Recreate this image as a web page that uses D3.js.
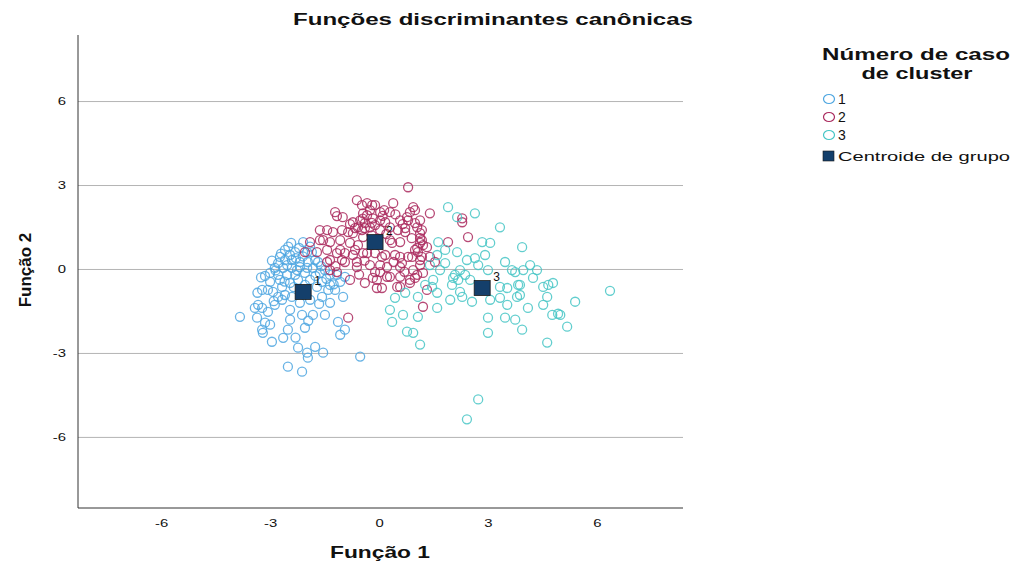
<!DOCTYPE html>
<html>
<head>
<meta charset="utf-8">
<script src="https://cdn.jsdelivr.net/npm/d3@7"></script>
<style>
  body { margin: 0; background: #fff; }
  text { font-family: "Liberation Sans", Arial, sans-serif; fill: #111; }
</style>
</head>
<body>
<svg width="1012" height="565"></svg>
<script>
// canonical discriminant scores, [função 1, função 2]
const cluster1 = [
  [-2.42,0.93],[-2.09,0.96],[-2.31,0.60],[-1.98,0.60],[-2.59,0.32],[-2.40,0.32],[-2.18,0.25],[-1.96,0.25],
  [-1.76,0.32],[-2.87,0.04],[-2.64,0.04],[-2.40,0.04],[-2.18,0.07],[-1.98,0.04],[-1.82,0.04],[-3.00,-0.14],
  [-2.78,-0.21],[-2.53,-0.21],[-2.31,-0.21],[-2.04,-0.14],[-1.63,-0.14],[-1.35,-0.21],[-1.16,-0.21],[-3.22,-0.75],
  [-3.06,-0.75],[-2.92,-0.82],[-2.67,-0.64],[-2.59,-0.93],[-2.40,-1.00],[-2.67,-1.10],[-2.45,-1.46],[-2.12,-1.64],
  [-1.82,-1.64],[-1.71,-0.64],[-1.57,-1.00],[-1.35,-1.21],[-1.40,-0.75],[-1.21,-0.75],[-0.99,-1.00],[-3.42,-1.39],
  [-3.22,-1.39],[-3.83,-1.71],[-3.36,-1.74],[-3.14,-1.92],[-3.22,-2.17],[-3.00,-1.99],[-2.45,-1.81],[-2.04,-2.10],
  [-2.51,-2.17],[-2.64,-2.46],[-2.95,-2.60],[-1.07,-2.35],[-2.23,-2.81],[-1.98,-2.99],[-1.76,-2.78],[-1.54,-2.99],
  [-1.96,-3.17],[-2.51,-3.49],[-2.12,-3.67],[-0.52,-3.13],[-3.20,-2.28],[-3.14,-0.25],[-3.00,-0.46],[-2.73,-0.39],
  [-2.45,-0.50],[-2.23,-0.39],[-2.04,-0.57],[-1.90,-0.39],[-2.29,0.39],[-2.59,0.68],[-2.73,0.43],[-2.78,0.21],
  [-2.53,0.14],[-2.26,-0.04],[-1.85,0.60],[-1.68,0.25],[-1.49,-0.04],[-1.57,-0.46],[-1.35,-0.57],[-1.07,-0.46],
  [-0.94,-0.28],[-2.18,-1.21],[-1.90,-1.10],[-2.87,-1.28],[-3.06,-1.53],[-3.33,-1.28],[-2.78,-1.00],[-1.13,-1.89],
  [-0.94,-2.17],[-1.49,-1.64],[-2.95,0.30],[-2.70,0.55],[-2.50,0.80],[-2.20,0.75],[-1.90,0.80],[-2.10,0.45],
  [-2.45,0.50],[-2.85,-0.05],[-2.60,-0.45],[-2.35,-0.65],[-1.75,-0.25],[-1.60,0.10],[-1.45,-0.35],[-1.25,-0.55],
  [-3.25,-0.30],[-3.35,-0.85],[-2.90,-1.15],[-1.65,-1.25],[-1.95,-1.85],[-2.30,-2.45]
];

const cluster2 = [
  [0.80,2.92],[-0.61,2.46],[-0.47,2.28],[-0.19,2.28],[-0.11,2.28],[0.39,2.35],[-1.21,2.03],[-1.16,1.89],
  [0.03,2.03],[0.30,2.03],[0.85,2.03],[0.94,2.21],[1.40,1.99],[-0.52,1.74],[-0.39,1.64],[-0.25,1.49],
  [-0.58,1.49],[-0.72,1.67],[0.58,1.74],[0.80,1.74],[1.13,1.74],[0.30,1.49],[0.52,1.39],[0.72,1.32],
  [1.05,1.49],[1.13,1.28],[-1.43,1.39],[-1.27,1.32],[-1.02,1.39],[-0.85,1.32],[-0.72,1.28],[-0.44,1.14],
  [-1.54,1.03],[-1.35,0.96],[-1.07,1.03],[-0.80,0.93],[-0.58,0.85],[0.36,0.93],[1.13,0.93],[1.32,0.78],
  [-0.44,0.57],[-0.11,0.57],[0.17,0.50],[0.58,0.43],[0.91,0.43],[-1.43,0.68],[-1.16,0.57],[-0.94,0.57],
  [-0.72,0.50],[0.99,0.68],[1.40,0.43],[-1.02,0.32],[-0.61,0.25],[-0.25,0.14],[0.22,0.07],[0.58,0.07],
  [1.13,0.14],[-1.43,0.25],[-0.11,-0.11],[0.22,-0.28],[-0.80,-0.39],[-0.06,-0.39],[-0.39,-0.50],[0.58,-0.28],
  [1.05,-0.21],[0.85,-0.50],[0.08,-0.68],[0.50,-0.64],[-1.90,0.96],[-2.04,0.60],[-1.71,0.60],[-1.63,1.39],
  [-1.63,1.03],[-1.35,0.32],[-1.16,-0.11],[-0.94,0.25],[0.94,-0.04],[0.63,0.21],[0.99,2.10],[0.14,2.10],
  [-0.44,1.99],[-0.33,2.35],[-0.17,1.81],[0.03,1.74],[0.77,1.85],[0.99,1.64],[-0.66,1.46],[-0.39,1.46],
  [0.30,1.03],[0.58,0.96],[1.18,1.03],[-1.07,0.68],[-0.66,0.68],[-0.33,0.57],[0.08,0.43],[0.44,0.50],
  [0.80,0.43],[1.07,0.60],[1.13,0.32],[-0.61,0.07],[0.03,0.14],[0.03,-0.11],[-0.17,-0.32],[0.30,-0.28],
  [0.85,-0.39],[-0.06,-0.68],[0.58,-0.64],[0.72,1.46],[1.18,1.39],[1.13,1.10],[1.21,0.85],[1.05,0.75],
  [1.18,0.43],[2.29,1.81],[2.29,1.67],[1.90,0.96],[2.45,1.14],[1.54,0.25],[0.99,-0.32],[1.21,-0.14],
  [1.32,-0.75],[1.21,-1.35],[-0.85,-1.74],[-1.35,-0.04],[-0.33,1.92],[-0.11,1.57],[-0.25,2.10],[-0.47,1.39],
  [0.03,1.39],[0.17,1.67],[-0.20,1.65],[0.10,1.90],[-0.45,1.80],[0.45,1.95],[0.65,1.60],[-0.80,1.60],
  [-1.00,1.85],[0.20,1.25],[-0.20,1.20],[0.90,1.10],[-1.20,0.10],[-0.40,0.30],[0.40,0.25],[0.70,-0.10],
  [-0.55,-0.20]
];

const cluster3 = [
  [1.90,2.21],[2.64,1.99],[3.33,1.49],[3.94,0.78],[1.63,0.96],[2.15,0.60],[2.84,0.96],[3.06,0.93],
  [2.42,0.32],[2.64,0.39],[2.73,0.14],[1.82,0.21],[3.00,-0.04],[3.75,-0.11],[3.97,-0.04],[4.16,0.14],
  [4.35,-0.04],[4.24,-0.32],[2.04,-0.32],[2.18,-0.39],[1.49,-0.39],[1.46,-0.64],[2.01,-0.57],[2.51,-0.39],
  [3.33,-0.64],[3.53,-0.68],[3.83,-0.57],[4.52,-0.64],[4.66,-0.57],[4.79,-0.50],[1.60,-0.85],[1.07,-1.00],
  [1.96,-1.10],[2.29,-1.00],[2.56,-1.17],[3.33,-1.03],[3.80,-1.00],[4.63,-1.00],[3.53,-1.28],[4.10,-1.39],
  [4.52,-1.28],[5.40,-1.17],[1.60,-1.39],[3.00,-1.74],[3.47,-1.74],[3.75,-1.81],[4.77,-1.64],[4.99,-1.64],
  [5.18,-2.06],[0.66,-1.64],[1.07,-1.71],[0.77,-2.24],[0.94,-2.28],[3.00,-2.28],[3.94,-2.17],[4.63,-2.63],
  [1.13,-2.70],[3.88,-0.57],[3.88,-0.93],[6.36,-0.78],[4.93,-1.60],[2.73,-4.66],[2.42,-5.37],[0.36,-1.89],
  [0.44,-1.03],[0.72,-0.85],[0.30,-1.46],[2.23,-0.04],[2.09,-0.21],[2.37,-0.21],[1.68,-0.04],[1.40,0.14],
  [1.82,0.68],[1.60,0.50],[2.78,-0.75],[3.06,-1.10],[2.92,0.50],[3.47,0.25],[3.66,-0.04],[2.23,-0.82],
  [1.27,-0.57],[2.15,1.85]
];

const centroidX = [-2.09, -0.11, 2.84];
const centroidY = [-0.82, 0.96, -0.68];
const centroidLabels = ['1', '2', '3'];

const xTicks = [-6, -3, 0, 3, 6];
const yTicks = [-6, -3, 0, 3, 6];

const legendLabels = ['1', '2', '3'];
const colors = ['#4ea6e0', '#aa2a5e', '#46c6c6'];

const svg = d3.select('svg');
const plot = { left: 78, right: 683, top: 35, bottom: 508 };

const x = d3.scaleLinear().domain([-8.29, 8.37]).range([plot.left, plot.right]);
const y = d3.scaleLinear().domain([-8.54, 8.36]).range([plot.bottom, plot.top]);

// the source image is stretched sideways, so text gets widened the same way
function stretch(sel, k) {
  sel.each(function () {
    const w = this.getComputedTextLength();
    d3.select(this).attr('textLength', w * k).attr('lengthAdjust', 'spacingAndGlyphs');
  });
}

const plainNum = (d) => { return String(d); };   // ascii hyphen, not U+2212

svg.append('rect').attr('width', 1012).attr('height', 565).attr('fill', '#fff');

// horizontal grid + y labels
const gy = svg.append('g')
    .attr('transform', 'translate(' + plot.left + ',0)')
    .call(d3.axisLeft(y).tickValues(yTicks).tickFormat(plainNum)
            .tickSize(-(plot.right - plot.left)).tickPadding(12));
gy.select('.domain').remove();
gy.selectAll('line').attr('stroke', '#b4b4b4');
gy.selectAll('text').attr('font-size', 11).attr('fill', '#222');
stretch(gy.selectAll('text'), 1.35);

const gx = svg.append('g')
    .attr('transform', 'translate(0,' + plot.bottom + ')')
    .call(d3.axisBottom(x).tickValues(xTicks).tickFormat(plainNum).tickSize(0).tickPadding(11));
gx.select('.domain').remove();
gx.selectAll('text').attr('font-size', 11).attr('fill', '#222');
stretch(gx.selectAll('text'), 1.35);

// frame: left and bottom only
svg.append('line')
    .attr('x1', plot.left).attr('x2', plot.left)
    .attr('y1', plot.top).attr('y2', plot.bottom)
    .attr('stroke', '#333');
svg.append('line')
    .attr('x1', plot.left).attr('x2', plot.right)
    .attr('y1', plot.bottom).attr('y2', plot.bottom)
    .attr('stroke', '#333');

// points
[cluster1, cluster2, cluster3].forEach((pts, i) => {
  svg.append('g')
    .selectAll('circle')
    .data(pts)
    .enter().append('circle')
      .attr('cx', (d) => { return x(d[0]); })
      .attr('cy', (d) => { return y(d[1]); })
      .attr('r', 4.5)
      .attr('fill', 'none')
      .attr('stroke', colors[i])
      .attr('stroke-opacity', 0.85)
      .attr('stroke-width', 1.3);
});

// group centroids
const cents = centroidX.map((cx, i) => { return { x: cx, y: centroidY[i], label: centroidLabels[i] }; });
svg.append('g')
  .selectAll('rect')
  .data(cents)
  .enter().append('rect')
    .attr('x', (d) => { return x(d.x) - 8; })
    .attr('y', (d) => { return y(d.y) - 7.5; })
    .attr('width', 16)
    .attr('height', 15)
    .attr('fill', '#143f6b')
    .attr('stroke', '#1a1a1a')
    .attr('stroke-width', 0.8);
svg.append('g')
  .selectAll('text')
  .data(cents)
  .enter().append('text')
    .attr('x', (d) => { return x(d.x) + 11; })
    .attr('y', (d) => { return y(d.y) - 7; })
    .attr('font-size', 12)
    .text((d) => { return d.label; });

// titles
svg.append('text')
    .attr('x', 493).attr('y', 25)
    .attr('text-anchor', 'middle')
    .attr('font-size', 16).attr('font-weight', 'bold')
    .attr('textLength', 400).attr('lengthAdjust', 'spacingAndGlyphs')
    .text('Funções discriminantes canônicas');

svg.append('text')
    .attr('x', 380).attr('y', 558)
    .attr('text-anchor', 'middle')
    .attr('font-size', 17).attr('font-weight', 'bold')
    .attr('textLength', 100).attr('lengthAdjust', 'spacingAndGlyphs')
    .text('Função 1');

svg.append('text')
    .attr('transform', 'translate(31,270) rotate(-90)')
    .attr('text-anchor', 'middle')
    .attr('font-size', 17).attr('font-weight', 'bold')
    .text('Função 2');

// legend
const lg = svg.append('g');
lg.append('text')
    .attr('x', 916).attr('y', 60)
    .attr('text-anchor', 'middle')
    .attr('font-size', 17).attr('font-weight', 'bold')
    .attr('textLength', 188).attr('lengthAdjust', 'spacingAndGlyphs')
    .text('Número de caso');
lg.append('text')
    .attr('x', 917).attr('y', 79)
    .attr('text-anchor', 'middle')
    .attr('font-size', 17).attr('font-weight', 'bold')
    .attr('textLength', 111).attr('lengthAdjust', 'spacingAndGlyphs')
    .text('de cluster');

const legendY = d3.scaleOrdinal().domain(legendLabels.concat(['c'])).range([99, 117, 135, 156]);

lg.selectAll('ellipse')
  .data(legendLabels)
  .enter().append('ellipse')
    .attr('cx', 829)
    .attr('cy', (d) => { return legendY(d); })
    .attr('rx', 5.5).attr('ry', 4.5)
    .attr('fill', 'none')
    .attr('stroke', (d, i) => { return colors[i]; })
    .attr('stroke-width', 1.2);
lg.selectAll('.lbl')
  .data(legendLabels)
  .enter().append('text')
    .attr('class', 'lbl')
    .attr('x', 838)
    .attr('y', (d) => { return legendY(d) + 5; })
    .attr('font-size', 14)
    .attr('fill', '#222')
    .text((d) => { return d; });
lg.append('rect')
    .attr('x', 823).attr('y', legendY('c') - 5)
    .attr('width', 11).attr('height', 10)
    .attr('fill', '#143f6b').attr('stroke', '#1a1a1a').attr('stroke-width', 0.6);
lg.append('text')
    .attr('x', 838).attr('y', legendY('c') + 5)
    .attr('font-size', 13)
    .attr('fill', '#222')
    .attr('textLength', 172).attr('lengthAdjust', 'spacingAndGlyphs')
    .text('Centroide de grupo');
</script>
</body>
</html>
